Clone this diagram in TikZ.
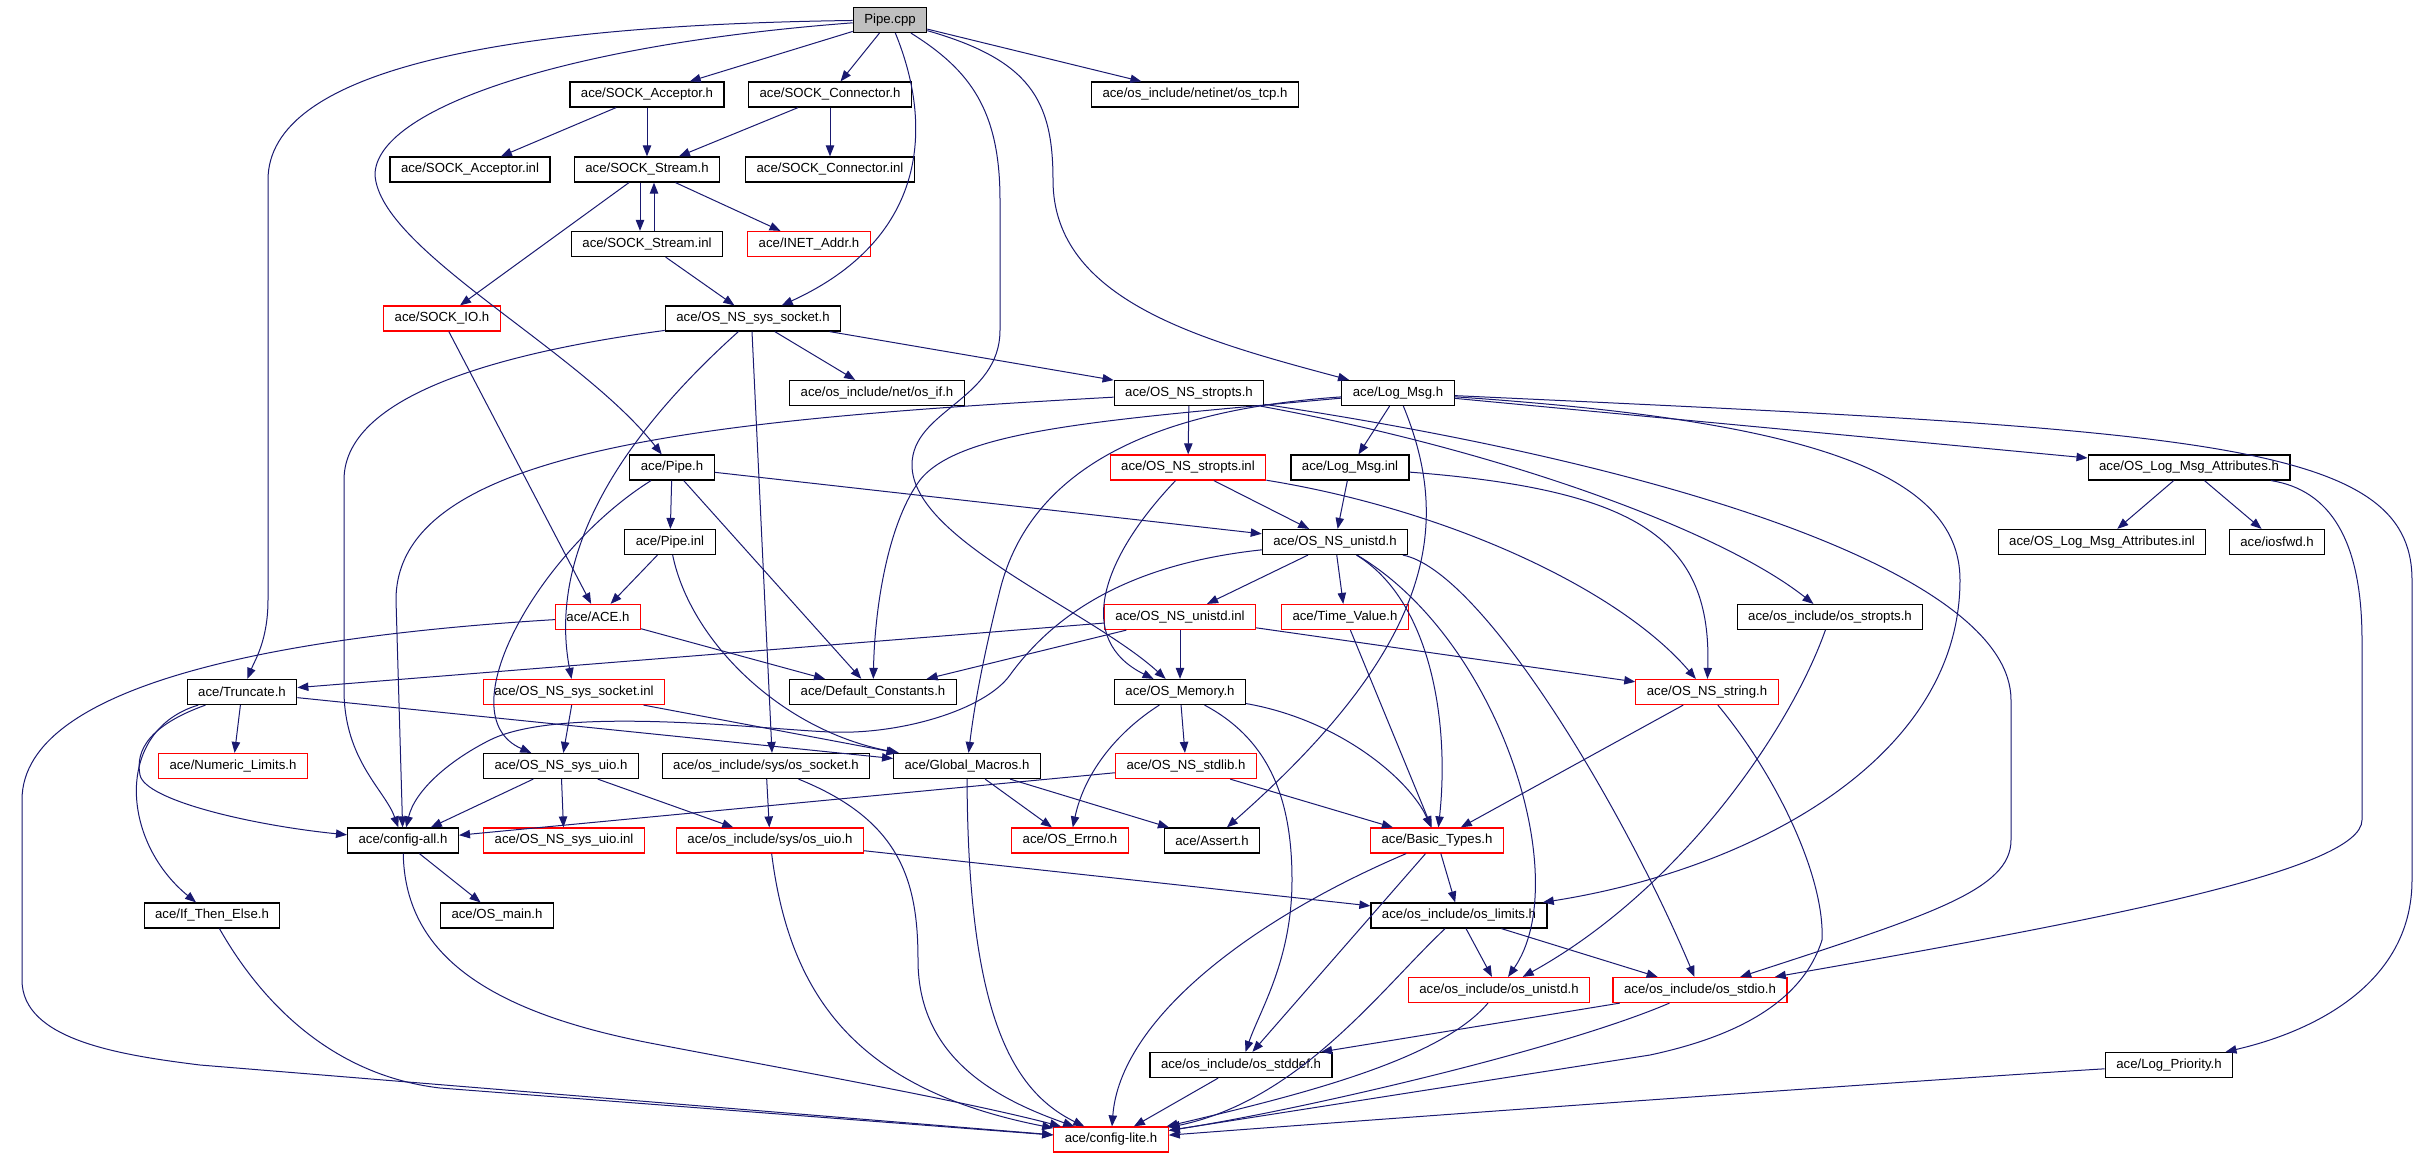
\documentclass[tikz,border=0pt]{standalone}
\usepackage{fontspec}
\setmainfont{Liberation Sans}
\usetikzlibrary{arrows.meta}
\definecolor{azulnoche}{HTML}{191970}
\definecolor{rojo}{HTML}{FF0000}
\definecolor{gris}{HTML}{BFBFBF}

\begin{document}
\begin{tikzpicture}[x=0.5pt,y=-0.5pt,>={Triangle[length=5.5pt,width=4.2pt]},
    archivo/.style={draw=black,line width=0.6pt,minimum height=12.5pt,
                    inner xsep=5.5pt,inner ysep=0pt,font=\fontsize{6.6}{7.5}\selectfont},
    truncado/.style={archivo,draw=rojo},
    dep/.style={->,draw=azulnoche,line width=0.5pt}]
  \fill[white] (0,0) rectangle (2432,1157);
  % nodos
  \node[archivo,fill=gris] (pipecpp) at (890,20) {Pipe.cpp};
  \node[archivo] (sockacc) at (647,94.5) {ace/SOCK\_Acceptor.h};
  \node[archivo] (sockcon) at (830,94.5) {ace/SOCK\_Connector.h};
  \node[archivo] (ostcp) at (1195,94.5) {ace/os\_include/netinet/os\_tcp.h};
  \node[archivo] (sockaccinl) at (470,169.5) {ace/SOCK\_Acceptor.inl};
  \node[archivo] (sockstr) at (647,169.5) {ace/SOCK\_Stream.h};
  \node[archivo] (sockconinl) at (830,169.5) {ace/SOCK\_Connector.inl};
  \node[archivo] (sockstrinl) at (647,244) {ace/SOCK\_Stream.inl};
  \node[truncado] (inetaddr) at (809,244) {ace/INET\_Addr.h};
  \node[truncado] (sockio) at (442,318.5) {ace/SOCK\_IO.h};
  \node[archivo] (nssock) at (753,318.5) {ace/OS\_NS\_sys\_socket.h};
  \node[archivo] (osif) at (877,393) {ace/os\_include/net/os\_if.h};
  \node[archivo] (nsstr) at (1189,393) {ace/OS\_NS\_stropts.h};
  \node[archivo] (logmsg) at (1398,393) {ace/Log\_Msg.h};
  \node[archivo] (pipeh) at (672,467.5) {ace/Pipe.h};
  \node[truncado] (nsstrinl) at (1188,467.5) {ace/OS\_NS\_stropts.inl};
  \node[archivo] (logmsginl) at (1350,467.5) {ace/Log\_Msg.inl};
  \node[archivo] (logattr) at (2189,467.5) {ace/OS\_Log\_Msg\_Attributes.h};
  \node[archivo] (pipeinl) at (670,542) {ace/Pipe.inl};
  \node[archivo] (nsunistd) at (1335,542) {ace/OS\_NS\_unistd.h};
  \node[archivo] (logattrinl) at (2102,542) {ace/OS\_Log\_Msg\_Attributes.inl};
  \node[archivo] (iosfwd) at (2277,542) {ace/iosfwd.h};
  \node[truncado] (ace) at (598,617) {ace/ACE.h};
  \node[truncado] (nsunistdinl) at (1180,617) {ace/OS\_NS\_unistd.inl};
  \node[truncado] (timeval) at (1345,617) {ace/Time\_Value.h};
  \node[archivo] (osstropts) at (1830,617) {ace/os\_include/os\_stropts.h};
  \node[archivo] (truncate) at (242,692) {ace/Truncate.h};
  \node[truncado] (nssockinl) at (574,692) {ace/OS\_NS\_sys\_socket.inl};
  \node[archivo] (defconst) at (873,692) {ace/Default\_Constants.h};
  \node[archivo] (osmem) at (1180,692) {ace/OS\_Memory.h};
  \node[truncado] (nsstring) at (1707,692) {ace/OS\_NS\_string.h};
  \node[truncado] (numlim) at (233,766) {ace/Numeric\_Limits.h};
  \node[archivo] (nsuio) at (561,766) {ace/OS\_NS\_sys\_uio.h};
  \node[archivo] (ossocket) at (766,766) {ace/os\_include/sys/os\_socket.h};
  \node[archivo] (globmac) at (967,766) {ace/Global\_Macros.h};
  \node[truncado] (nsstdlib) at (1186,766) {ace/OS\_NS\_stdlib.h};
  \node[archivo] (cfgall) at (403,840.5) {ace/config-all.h};
  \node[truncado] (nsuioinl) at (564,840.5) {ace/OS\_NS\_sys\_uio.inl};
  \node[truncado] (osuio) at (770,840.5) {ace/os\_include/sys/os\_uio.h};
  \node[truncado] (errno) at (1070,840.5) {ace/OS\_Errno.h};
  \node[archivo] (assert) at (1212,840.5) {ace/Assert.h};
  \node[truncado] (basictypes) at (1437,840.5) {ace/Basic\_Types.h};
  \node[archivo] (ifte) at (212,915.5) {ace/If\_Then\_Else.h};
  \node[archivo] (osmain) at (497,915.5) {ace/OS\_main.h};
  \node[archivo] (oslimits) at (1459,915.5) {ace/os\_include/os\_limits.h};
  \node[truncado] (osunistd) at (1499,990) {ace/os\_include/os\_unistd.h};
  \node[truncado] (osstdio) at (1700,990) {ace/os\_include/os\_stdio.h};
  \node[archivo] (osstddef) at (1241,1065) {ace/os\_include/os\_stddef.h};
  \node[archivo] (logprio) at (2169,1065) {ace/Log\_Priority.h};
  \node[truncado] (cfglite) at (1111,1139.5) {ace/config-lite.h};
  % Pipe.cpp
  \foreach \d in {sockacc,sockcon,ostcp}
    \draw[dep] (pipecpp) -- (\d);
  \draw[dep] (pipecpp) .. controls (935,130) and (925,240) .. (nssock);
  \draw[dep] (pipecpp) .. controls (1030,60) and (1053,100) .. (1053,180)
                       .. controls (1053,300) and (1200,340) .. (logmsg);
  \draw[dep] (pipecpp) .. controls (560,45) and (375,110) .. (375,175)
                       .. controls (380,250) and (580,350) .. (pipeh);
  \draw[dep] (pipecpp) .. controls (500,25) and (268,70) .. (268,180) -- (268,600)
                       .. controls (268,640) and (255,660) .. (truncate);
  \draw[dep] (pipecpp) .. controls (970,70) and (1000,110) .. (1000,200) -- (1000,330)
                       .. controls (1000,400) and (912,410) .. (912,465)
                       .. controls (912,540) and (1090,610) .. (osmem);
  % sockets
  \draw[dep] (sockacc) -- (sockaccinl);
  \draw[dep] (sockacc) -- (sockstr);
  \draw[dep] (sockcon) -- (sockstr);
  \draw[dep] (sockcon) -- (sockconinl);
  \draw[dep] ([xshift=-3.5pt]sockstr.south) -- ([xshift=-3.5pt]sockstrinl.north);
  \draw[dep] ([xshift=3.5pt]sockstrinl.north) -- ([xshift=3.5pt]sockstr.south);
  \draw[dep] (sockstr) -- (inetaddr);
  \draw[dep] (sockstr) -- (sockio);
  \draw[dep] (sockstrinl) -- (nssock);
  \draw[dep] (sockio) -- (ace);
  % OS_NS_sys_socket.h
  \foreach \d in {osif,nsstr}
    \draw[dep] (nssock) -- (\d);
  \draw[dep] ([xshift=-0.5pt]nssock.south) -- ([xshift=3pt]ossocket.north);
  \draw[dep] (nssock) .. controls (520,350) and (344,390) .. (344,480) -- (344,690)
                      .. controls (344,760) and (385,790) .. (cfgall);
  \draw[dep] (nssock) .. controls (640,420) and (545,540) .. (nssockinl);
  % OS_NS_stropts.h
  \draw[dep] (nsstr) -- (nsstrinl);
  \draw[dep] (nsstr) .. controls (700,420) and (396,450) .. (396,600) -- (cfgall);
  \draw[dep] (nsstr) .. controls (1500,450) and (1720,530) .. (osstropts);
  \draw[dep] (nsstr) .. controls (1700,470) and (2011,580) .. (2011,700) -- (2011,840)
                     .. controls (2011,890) and (1930,915) .. (osstdio);
  % Log_Msg.h
  \draw[dep] (logmsg) -- (logmsginl);
  \draw[dep] (logmsg) -- (logattr);
  \draw[dep] (logmsg) .. controls (1100,420) and (960,430) .. (920,480)
                      .. controls (890,520) and (875,600) .. (defconst);
  \draw[dep] (logmsg) .. controls (1150,410) and (1030,470) .. (1000,590)
                      .. controls (985,650) and (975,700) .. (globmac);
  \draw[dep] (logmsg) .. controls (1450,520) and (1440,640) .. (assert);
  \draw[dep] (logmsg) .. controls (1800,420) and (1960,470) .. (1960,580)
                      .. controls (1960,760) and (1750,870) .. (oslimits);
  \draw[dep] (logmsg) .. controls (2200,430) and (2412,440) .. (2412,580) -- (2412,880)
                      .. controls (2412,980) and (2320,1030) .. (logprio);
  \draw[dep] (logmsginl) -- (nsunistd);
  \draw[dep] (logmsginl) .. controls (1640,490) and (1712,540) .. (nsstring);
  % atributos
  \draw[dep] (logattr) -- (logattrinl);
  \draw[dep] (logattr) -- (iosfwd);
  \draw[dep] (logattr) .. controls (2330,490) and (2362,540) .. (2362,640) -- (2362,820)
                       .. controls (2362,870) and (2100,920) .. (osstdio);
  % OS_NS_stropts.inl
  \draw[dep] (nsstrinl) -- (nsunistd);
  \draw[dep] (nsstrinl) .. controls (1450,510) and (1620,590) .. (nsstring);
  \draw[dep] (nsstrinl) .. controls (1100,560) and (1075,640) .. (osmem);
  % OS_NS_unistd.h
  \draw[dep] (nsunistd) -- (nsunistdinl);
  \draw[dep] (nsunistd) -- (timeval);
  \draw[dep] (nsunistd) .. controls (1120,565) and (1050,620) .. (1010,675)
                        .. controls (985,710) and (900,735) .. (830,732)
                        .. controls (760,729) and (560,705) .. (490,740)
                        .. controls (450,760) and (415,790) .. (cfgall);
  \draw[dep] (nsunistd) .. controls (1430,600) and (1450,720) .. (basictypes);
  \draw[dep] (nsunistd) .. controls (1500,640) and (1575,880) .. (osunistd);
  \draw[dep] (nsunistd) .. controls (1480,570) and (1620,800) .. (osstdio);
  \foreach \d in {osmem,nsstring,truncate,defconst}
    \draw[dep] (nsunistdinl) -- (\d);
  % ACE.h
  \draw[dep] (ace) -- (defconst);
  \draw[dep] (ace) .. controls (300,635) and (22,680) .. (22,800) -- (22,980)
                   .. controls (22,1040) and (120,1055) .. (200,1065) -- (cfglite);
  % Pipe.h
  \foreach \d in {pipeinl,nsunistd,defconst}
    \draw[dep] (pipeh) -- (\d);
  \draw[dep] (pipeh) .. controls (540,550) and (445,715) .. (nsuio);
  \draw[dep] (pipeinl) -- (ace);
  \draw[dep] (pipeinl) .. controls (690,640) and (780,730) .. (globmac);
  % Truncate.h
  \draw[dep] (truncate) -- (numlim);
  \draw[dep] (truncate) -- (globmac);
  \draw[dep] (truncate) .. controls (150,725) and (135,750) .. (140,775)
                        .. controls (145,800) and (250,825) .. (cfgall);
  \draw[dep] (truncate) .. controls (115,730) and (120,840) .. (ifte);
  \draw[dep] (nssockinl) -- (nsuio);
  \draw[dep] (nssockinl) -- (globmac);
  \foreach \d in {cfgall,nsuioinl,osuio}
    \draw[dep] (nsuio) -- (\d);
  \draw[dep] (ossocket) -- (osuio);
  \draw[dep] (ossocket) .. controls (900,820) and (918,880) .. (918,960)
                        .. controls (918,1060) and (1000,1100) .. (cfglite);
  % Global_Macros.h
  \draw[dep] (globmac) -- (errno);
  \draw[dep] (globmac) -- (assert);
  \draw[dep] (globmac) .. controls (968,1010) and (1010,1090) .. (cfglite);
  % OS_Memory.h
  \draw[dep] (osmem) -- (nsstdlib);
  \draw[dep] (osmem) .. controls (1120,730) and (1085,770) .. (errno);
  \draw[dep] (osmem) .. controls (1340,720) and (1410,780) .. (basictypes);
  \draw[dep] (osmem) .. controls (1270,740) and (1292,800) .. (1292,880)
                     .. controls (1292,960) and (1260,1010) .. (osstddef);
  \draw[dep] (nsstdlib) -- (cfgall);
  \draw[dep] (nsstdlib) -- (basictypes);
  \draw[dep] (timeval) -- (basictypes);
  \draw[dep] (nsstring) -- (basictypes);
  \draw[dep] (nsstring) .. controls (1780,780) and (1825,880) .. (1822,940)
                        .. controls (1800,1010) and (1720,1040) .. (1650,1055) -- (cfglite);
  \draw[dep] (osstropts) .. controls (1790,730) and (1680,890) .. (osunistd);
  % hacia config-lite.h
  \draw[dep] (cfgall) -- (osmain);
  \draw[dep] (cfgall) .. controls (405,950) and (480,1010) .. (650,1043)
                      .. controls (780,1068) and (960,1100) .. (cfglite);
  \draw[dep] (ifte) .. controls (260,1000) and (330,1075) .. (440,1088) -- (cfglite);
  \draw[dep] (osuio) .. controls (790,1000) and (860,1090) .. (cfglite);
  \draw[dep] (osuio) -- (oslimits);
  \draw[dep] (basictypes) -- (oslimits);
  \draw[dep] (basictypes) -- (osstddef);
  \draw[dep] (basictypes) .. controls (1250,920) and (1120,1020) .. (cfglite);
  \draw[dep] (oslimits) -- (osunistd);
  \draw[dep] (oslimits) -- (osstdio);
  \draw[dep] (oslimits) .. controls (1380,990) and (1300,1100) .. (cfglite);
  \draw[dep] (osunistd) .. controls (1440,1060) and (1300,1095) .. (cfglite);
  \draw[dep] (osstdio) -- (osstddef);
  \draw[dep] (osstdio) .. controls (1560,1050) and (1300,1110) .. (cfglite);
  \draw[dep] (osstddef) -- (cfglite);
  \draw[dep] (logprio) .. controls (2000,1075) and (1500,1110) .. (cfglite);
\end{tikzpicture}
\end{document}
